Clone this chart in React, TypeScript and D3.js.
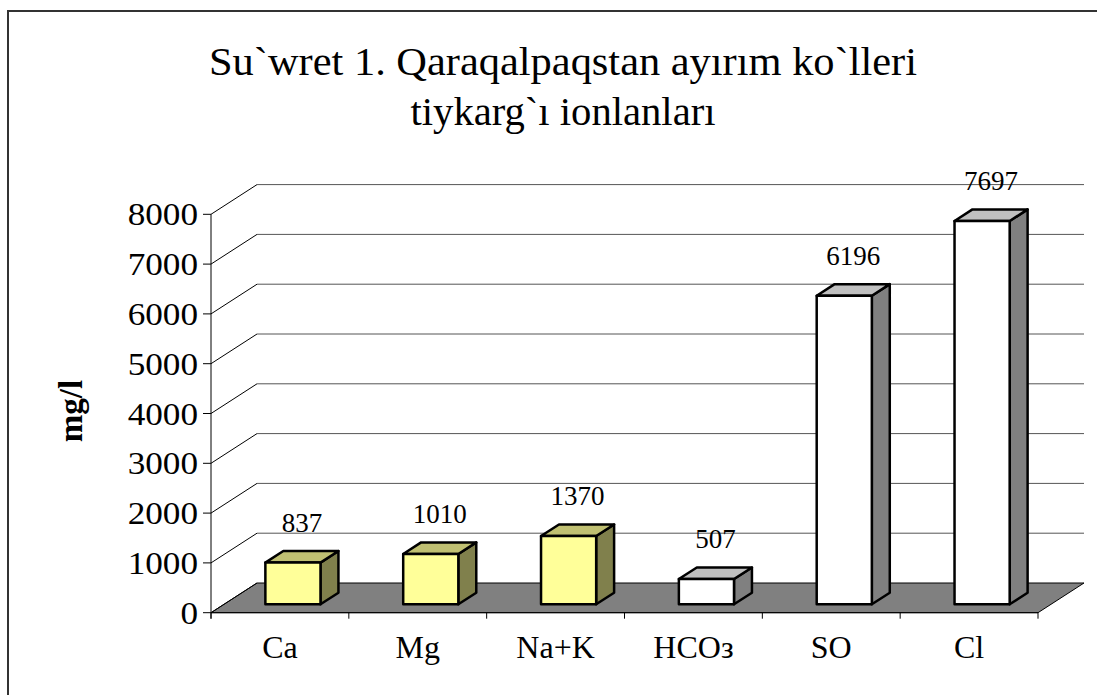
import React from "react";
import * as d3 from "d3";

// chart data
const categories = ["Ca", "Mg", "Na+K", "HCOз", "SO", "Cl"];
const values = [837, 1010, 1370, 507, 6196, 7697];
const ionGroup = ["cation", "cation", "cation", "anion", "anion", "anion"];
const yTicks = [0, 1000, 2000, 3000, 4000, 5000, 6000, 7000, 8000];
const titleLines = ["Su`wret 1. Qaraqalpaqstan ayırım ko`lleri", "tiykarg`ı ionlanları"];
const yTitle = "mg/l";

const palette = {
  cation: { front: "#FFFF99", top: "#C0C072", side: "#80804C" },
  anion: { front: "#FFFFFF", top: "#C0C0C0", side: "#808080" },
};

const W = 1097;
const H = 695;
// 3d depth of the plot box
const DX = 46;
const DY = -29.7;
const serif = "'Liberation Serif', 'Times New Roman', serif";

const App = () => {
  const x = d3.scaleBand().domain(categories).range([211, 1038]).padding(0);
  const y = d3.scaleLinear().domain([0, 8000]).range([612.7, 214.3]);

  const bw = x.bandwidth();
  const barW = bw * 0.4;
  // bars sit part way into the floor
  const fx = DX * 0.283;
  const fy = DY * 0.283;
  const bdx = DX * 0.39;
  const bdy = DY * 0.39;

  const x0 = x.range()[0];
  const x1 = x.range()[1];
  const yb = y(0);

  const floor = [
    [x0, yb],
    [x1, yb],
    [x1 + DX, yb + DY],
    [x0 + DX, yb + DY],
  ];

  const pts = (p: number[][]) => p.map((d) => d.join(",")).join(" ");

  return (
    <svg
      width={W}
      height={H}
      style={{ position: "absolute", left: 0, top: 0, background: "#fff" }}
    >
      <rect x={8} y={11} width={1200} height={800} fill="#fff" stroke="#333" strokeWidth={2} />

      {/* title */}
      <g fontFamily={serif} fontSize={40} textAnchor="middle" fill="#000">
        <text x={563} y={75} textLength={708} lengthAdjust="spacingAndGlyphs">
          {titleLines[0]}
        </text>
        <text x={563} y={125} textLength={305} lengthAdjust="spacingAndGlyphs">
          {titleLines[1]}
        </text>
      </g>

      {/* floor */}
      <polygon points={pts(floor)} fill="#808080" stroke="#000" strokeWidth={1} />

      {/* back wall gridlines + side diagonals */}
      {yTicks.map((t) => (
        <g key={t}>
          {t > 0 && (
            <line x1={x0 + DX} x2={x1 + DX} y1={y(t) + DY} y2={y(t) + DY} stroke="#555" strokeWidth={1} />
          )}
          <line x1={x0} x2={x0 + DX} y1={y(t)} y2={y(t) + DY} stroke="#000" strokeWidth={1} />
          <line x1={x0 - 8} x2={x0} y1={y(t)} y2={y(t)} stroke="#000" strokeWidth={1} />
        </g>
      ))}

      {/* y axis */}
      <line x1={x0} x2={x0} y1={y(8000)} y2={yb + 6} stroke="#000" strokeWidth={1} />
      <line x1={x0} x2={x1} y1={yb} y2={yb} stroke="#000" strokeWidth={1} />
      {d3.range(categories.length + 1).map((i) => (
        <line key={i} x1={x0 + i * bw} x2={x0 + i * bw} y1={yb} y2={yb + 6} stroke="#000" strokeWidth={1} />
      ))}

      <g fontFamily={serif} fontSize={32} fill="#000" textAnchor="end">
        {yTicks.map((t) => (
          <text key={t} transform={`translate(198,${y(t) + 11}) scale(1.1,1)`}>
            {t}
          </text>
        ))}
      </g>

      <text
        transform={`translate(82,411) rotate(-90)`}
        fontFamily={serif}
        fontSize={33}
        fontWeight="bold"
        textAnchor="middle"
      >
        {yTitle}
      </text>

      {/* bars */}
      {categories.map((c, i) => {
        const v = values[i];
        const col = palette[ionGroup[i]];
        const bx = (x(c) as number) + (bw - barW) / 2 + fx;
        const top = y(v) + fy;
        const bot = yb + fy;
        const topFace = [
          [bx, top],
          [bx + barW, top],
          [bx + barW + bdx, top + bdy],
          [bx + bdx, top + bdy],
        ];
        const sideFace = [
          [bx + barW, top],
          [bx + barW + bdx, top + bdy],
          [bx + barW + bdx, bot + bdy],
          [bx + barW, bot],
        ];
        return (
          <g key={c} stroke="#000" strokeWidth={2.5} strokeLinejoin="round">
            <polygon points={pts(sideFace)} fill={col.side} />
            <polygon points={pts(topFace)} fill={col.top} />
            <rect x={bx} y={top} width={barW} height={bot - top} fill={col.front} />
            <text
              x={bx + barW / 2 + 9}
              y={top - 31}
              stroke="none"
              fill="#000"
              fontFamily={serif}
              fontSize={27}
              textAnchor="middle"
            >
              {v}
            </text>
          </g>
        );
      })}

      {/* category labels */}
      <g fontFamily={serif} fontSize={32} fill="#000" textAnchor="middle">
        {categories.map((c) => (
          <text key={c} x={(x(c) as number) + bw / 2} y={658}>
            {c}
          </text>
        ))}
      </g>
    </svg>
  );
};

export default App;
